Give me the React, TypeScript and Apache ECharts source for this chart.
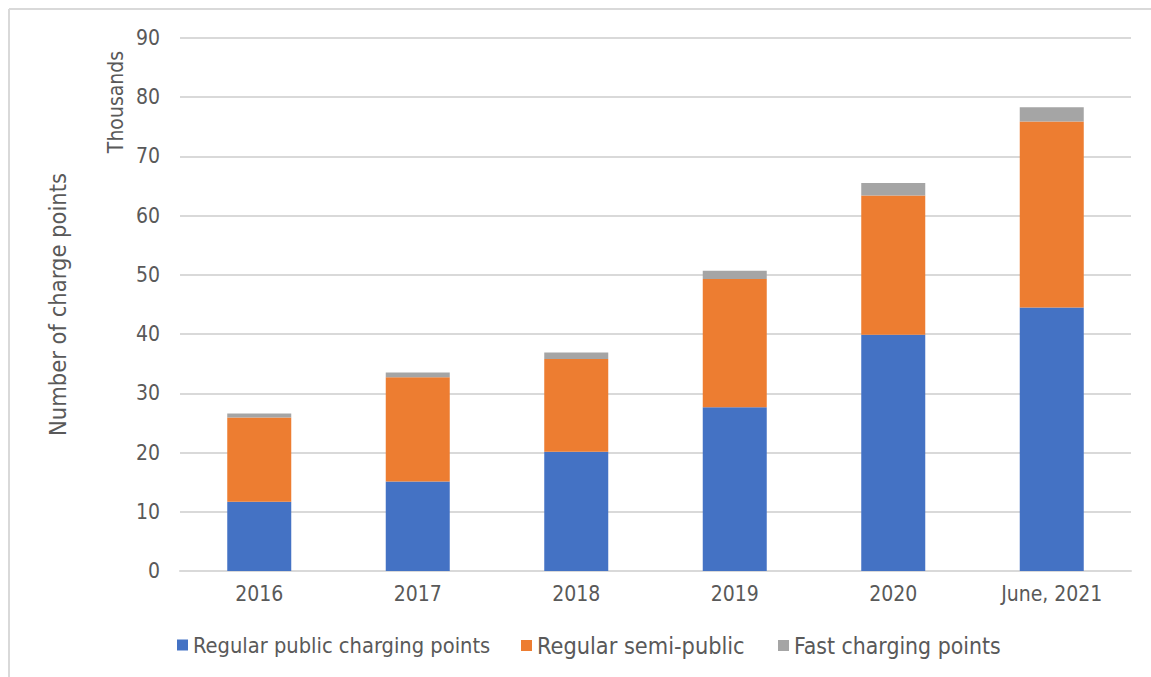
import React, { useEffect, useRef } from "react";
import * as echarts from "echarts";

const categories = ["2016", "2017", "2018", "2019", "2020", "June, 2021"];
const regularPublic = [11.7, 15.1, 20.15, 27.65, 39.9, 44.5];
const regularSemiPublic = [14.2, 17.6, 15.65, 21.65, 23.5, 31.4];
const fastCharging = [0.7, 0.8, 1.1, 1.4, 2.1, 2.4];
const seriesNames = ["Regular public charging points", "Regular semi-public", "Fast charging points"];
const colors = ["#4472C4", "#ED7D31", "#A5A5A5"];

const FONT = '"Liberation Sans Narrow", "DejaVu Sans Condensed", "Noto Sans", sans-serif';
const TEXT = "#595959";
const legendLefts = [177, 521, 778];
const legendSizes = [21.7, 23.3, 22.8];

export default function App() {
  const ref = useRef<HTMLDivElement>(null);
  useEffect(() => {
    if (!ref.current) return;
    const chart = echarts.init(ref.current, null, { renderer: "svg" });
    const data = [regularPublic, regularSemiPublic, fastCharging];
    chart.setOption({
      animation: false,
      textStyle: { fontFamily: FONT, color: TEXT },
      grid: { left: 180, right: 20, top: 38, bottom: 106, containLabel: false },
      legend: seriesNames.map((name, i) => ({
        left: legendLefts[i],
        top: 634,
        padding: 0,
        itemWidth: 11,
        itemHeight: 11,
        icon: "rect",
        textStyle: { fontFamily: FONT, fontSize: legendSizes[i], color: TEXT },
        data: [name],
      })),
      xAxis: {
        type: "category",
        data: categories,
        axisLine: { lineStyle: { color: "#d9d9d9", width: 2 } },
        axisTick: { show: false },
        axisLabel: { fontFamily: FONT, fontSize: 21, color: TEXT, margin: 12 },
      },
      yAxis: {
        type: "value",
        min: 0,
        max: 90,
        interval: 10,
        name: "Number of charge points",
        nameLocation: "middle",
        nameGap: 110,
        nameRotate: 90,
        nameTextStyle: { fontFamily: FONT, fontSize: 23.5, color: TEXT },
        axisLine: { show: false },
        axisTick: { show: false },
        splitLine: { lineStyle: { color: "#d9d9d9", width: 2 } },
        axisLabel: { fontFamily: FONT, fontSize: 21, color: TEXT, margin: 20 },
      },
      graphic: [
        {
          type: "text",
          x: 116,
          y: 102,
          rotation: Math.PI / 2,
          style: {
            text: "Thousands",
            fontFamily: FONT,
            fontSize: 21,
            fill: TEXT,
            align: "center",
            verticalAlign: "middle",
          },
        },
        {
          type: "line",
          shape: { x1: 9, y1: 9, x2: 9, y2: 677 },
          style: { stroke: "#d9d9d9", lineWidth: 2 },
        },
        {
          type: "line",
          shape: { x1: 9, y1: 9, x2: 1151, y2: 9 },
          style: { stroke: "#d9d9d9", lineWidth: 2 },
        },
      ],
      series: seriesNames.map((name, i) => ({
        name,
        type: "bar",
        stack: "total",
        barWidth: 64,
        data: data[i],
        itemStyle: { color: colors[i] },
      })),
    });
    return () => chart.dispose();
  }, []);
  return (
    <div
      ref={ref}
      style={{ position: "fixed", left: 0, top: 0, width: 1151, height: 677, background: "#fff" }}
    />
  );
}
